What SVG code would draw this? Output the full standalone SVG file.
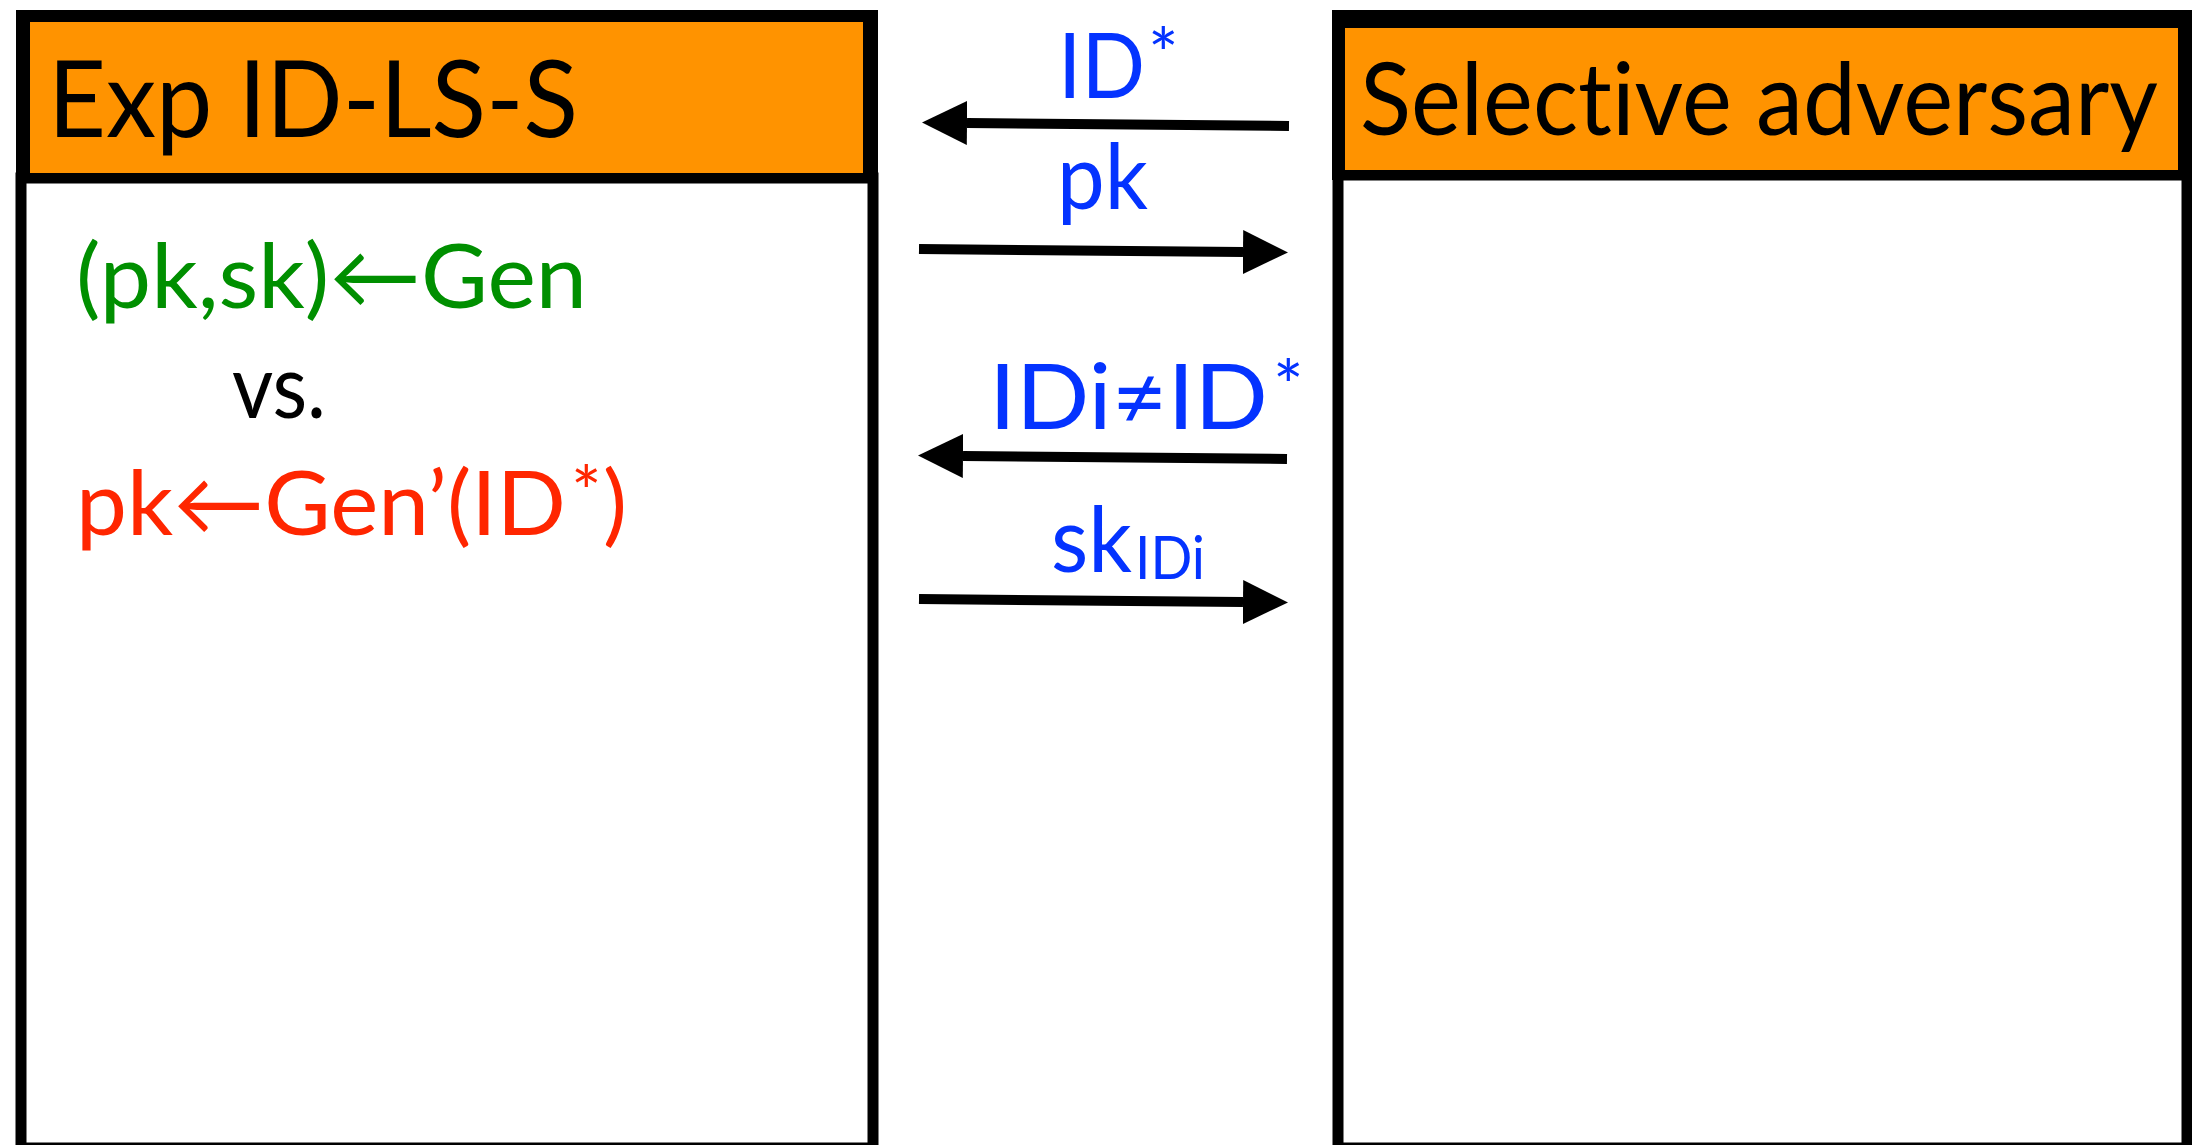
<svg xmlns="http://www.w3.org/2000/svg" width="2192" height="1145" viewBox="0 0 2192 1145">
<style>
.t{font-family:Lato,"Noto Sans","DejaVu Sans",sans-serif;font-variant-ligatures:none;}
.blue{fill:#0433FF;}
.green{fill:#008F00;}
.red{fill:#FF2600;}
.blk{fill:#000;}
.body{fill:#fff;stroke:#000;stroke-width:11;}
.conn{stroke:#000;stroke-width:10;fill:none;marker-end:url(#ah);}
</style>
<defs>
<marker id="ah" markerUnits="userSpaceOnUse" markerWidth="46" markerHeight="46" refX="0" refY="22" orient="auto" viewBox="0 0 46 46">
<path d="M0,0 L45,22 L0,44 z" fill="#000"/>
</marker>
</defs>
<rect width="2192" height="1145" fill="#fff"/>
<g id="experiment">
<rect class="body" x="21" y="178" width="852" height="970"/>
<rect x="16" y="10" width="862" height="173" fill="#000"/>
<rect x="30" y="22" width="833" height="151" fill="#FF9300"/>
<text class="t blk" x="48" y="137" font-size="107" textLength="530" lengthAdjust="spacingAndGlyphs">Exp ID-LS-S</text>
<text class="t green" x="76" y="308" font-size="90" textLength="511" lengthAdjust="spacingAndGlyphs">(pk,sk)←Gen</text>
<text class="t blk" x="232" y="418" font-size="90" textLength="94" lengthAdjust="spacingAndGlyphs">vs.</text>
<text class="t red" x="76" y="535" font-size="90" textLength="490" lengthAdjust="spacingAndGlyphs">pk←Gen’(ID</text>
<text class="t red" x="571" y="518" font-size="72">*</text>
<text class="t red" x="603" y="535" font-size="90">)</text>
</g>
<g id="adversary">
<rect class="body" x="1338" y="175" width="849" height="973"/>
<rect x="1332" y="10" width="860" height="170" fill="#000"/>
<rect x="1345" y="28" width="833" height="142" fill="#FF9300"/>
<text class="t blk" x="1360" y="135" font-size="100" textLength="798" lengthAdjust="spacingAndGlyphs">Selective adversary</text>
</g>
<g id="connectors">
<line class="conn" x1="1289" y1="126" x2="967" y2="123"/>
<line class="conn" x1="919" y1="249" x2="1243" y2="252"/>
<line class="conn" x1="1287" y1="459" x2="963" y2="456"/>
<line class="conn" x1="919" y1="599" x2="1243" y2="602"/>
</g>
<g id="labels">
<text class="t blue" x="1058" y="98" font-size="92" textLength="87" lengthAdjust="spacingAndGlyphs">ID</text>
<text class="t blue" x="1148" y="80" font-size="72">*</text>
<text class="t blue" x="1057" y="209" font-size="92" textLength="91" lengthAdjust="spacingAndGlyphs">pk</text>
<text class="t blue" x="989" y="429" font-size="92" textLength="279" lengthAdjust="spacingAndGlyphs">IDi≠ID</text>
<text class="t blue" x="1273" y="412" font-size="72">*</text>
<text class="t blue" x="1051" y="572" font-size="92" textLength="81" lengthAdjust="spacingAndGlyphs">sk</text>
<text class="t blue" x="1135" y="579" font-size="60" textLength="70" lengthAdjust="spacingAndGlyphs">IDi</text>
</g>
</svg>
